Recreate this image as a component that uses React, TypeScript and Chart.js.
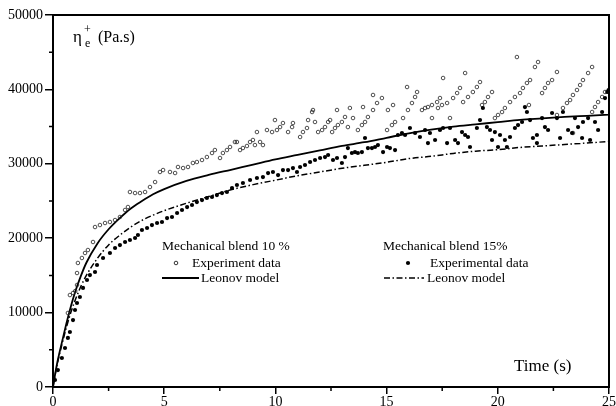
import React, { useEffect, useRef } from "react";
import { Chart, registerables } from "chart.js";

Chart.register(...registerables);

// ---- axis ticks ----
const X_MIN = 0;
const X_MAX = 25;
const X_STEP = 5;
const Y_MIN = 0;
const Y_MAX = 50000;
const Y_STEP = 10000;
const X_MINOR = [2.5, 7.5, 12.5, 17.5, 22.5];
const Y_MINOR = [5000, 15000, 25000, 35000, 45000];

// ---- texts ----
const Y_TITLE_MAIN = "η";
const Y_TITLE_SUP = "+";
const Y_TITLE_SUB = "e";
const Y_TITLE_UNIT = "(Pa.s)";
const X_TITLE = "Time (s)";
const LEGEND_10_TITLE = "Mechanical blend 10 %";
const LEGEND_10_EXP = "Experiment data";
const LEGEND_10_MODEL = "Leonov model";
const LEGEND_15_TITLE = "Mechanical blend 15%";
const LEGEND_15_EXP = "Experimental data";
const LEGEND_15_MODEL = "Leonov model";

// ---- Leonov model, blend 10 % (solid) ----
const leonov10T = [0, 0.1, 0.2, 0.4, 0.6, 0.8, 1, 1.25, 1.5, 2, 2.5, 3, 3.5, 4, 4.5, 5, 6, 7, 8, 9, 10, 11, 12, 13, 14, 15, 16, 17, 18, 19, 20, 21, 22, 23, 24, 25];
const leonov10V = [0, 1800, 3400, 6000, 8500, 10800, 12800, 14900, 16700, 19300, 21200, 22700, 24000, 25000, 25900, 26600, 27700, 28500, 29200, 29900, 30600, 31200, 31800, 32400, 32900, 33500, 34100, 34600, 35000, 35300, 35600, 35900, 36100, 36300, 36450, 36600];

// ---- Leonov model, blend 15 % (dash-dot) ----
const leonov15T = [0, 0.1, 0.2, 0.4, 0.6, 0.8, 1, 1.25, 1.5, 2, 2.5, 3, 3.5, 4, 4.5, 5, 6, 7, 8, 9, 10, 11, 12, 13, 14, 15, 16, 17, 18, 19, 20, 21, 22, 23, 24, 25];
const leonov15V = [0, 1700, 3200, 5700, 8000, 10000, 11700, 13500, 15000, 17300, 19100, 20400, 21500, 22400, 23100, 23700, 24700, 25600, 26500, 27200, 27800, 28400, 28900, 29400, 29800, 30200, 30700, 31000, 31400, 31700, 31900, 32200, 32400, 32600, 32800, 33000];

// ---- Experiment data, blend 10 % (open circles) [t, eta] ----
const exp10: [number, number][] = [
  [0.67, 9950], [0.76, 12360], [0.9, 12630], [1.0, 12900], [1.08, 13710], [1.08, 15320],
  [1.12, 16670], [1.3, 17340], [1.44, 18010], [1.57, 18410], [1.8, 19490], [1.89, 21500],
  [2.11, 21770], [2.34, 22040], [2.56, 22180], [2.79, 22440], [3.01, 22850], [3.24, 23790], [3.37, 24190],
  [3.46, 26210], [3.69, 26070], [3.91, 26070], [4.14, 26210], [4.36, 26880], [4.59, 27550], [4.81, 28900], [4.95, 29160],
  [5.26, 28900], [5.49, 28760], [5.62, 29570], [5.85, 29430], [6.07, 29570], [6.29, 30110], [6.47, 30240], [6.7, 30510],
  [6.92, 30910], [7.15, 31450], [7.28, 31850], [7.51, 30780], [7.64, 31450], [7.82, 31850], [7.96, 32260], [8.18, 32930],
  [8.27, 32930], [8.41, 31850], [8.54, 32120], [8.72, 32390], [8.86, 32930], [8.99, 33200], [9.17, 34270],
  [9.08, 32520], [9.31, 32930], [9.44, 32520], [9.62, 34540], [9.85, 34270], [9.98, 35880], [10.07, 34540], [10.21, 34940], [10.34, 35480],
  [10.57, 34270], [10.75, 34940], [10.79, 35480],
  [11.11, 33600], [11.24, 34270], [11.42, 34810], [11.47, 35880], [11.65, 36960], [11.69, 37230], [11.78, 35620],
  [11.92, 34270], [12.1, 34540], [12.23, 34940], [12.37, 35620], [12.46, 35880], [12.77, 37230],
  [12.55, 34270], [12.68, 34810], [12.81, 35210], [12.99, 35620], [13.13, 36290], [13.35, 37500],
  [13.26, 34940], [13.49, 36150], [13.94, 37630],
  [13.71, 34540], [13.89, 35210], [14.03, 35620], [14.16, 36290], [14.39, 37230], [14.57, 38170], [14.79, 38840], [14.39, 39250],
  [15.02, 34540], [15.24, 35210], [15.38, 35620], [15.06, 37230], [15.29, 37900],
  [15.74, 36150], [15.96, 37230], [16.14, 38170], [16.28, 38980], [16.37, 39650], [15.92, 40320],
  [16.59, 37230], [16.73, 37500], [16.86, 37630], [17.04, 37900], [17.27, 38300], [17.4, 38840], [17.54, 41530],
  [17.04, 36150], [17.31, 37500], [17.49, 37900], [17.72, 38170], [17.99, 38840], [18.17, 39510], [18.3, 40190], [18.53, 42200], [17.85, 36150],
  [18.44, 38300], [18.66, 38980], [18.88, 39650], [19.06, 40320], [19.2, 40990],
  [19.29, 37900], [19.42, 38300], [19.56, 38980], [19.74, 39650],
  [19.87, 36150], [20.01, 36560], [20.19, 36960], [20.32, 37500], [20.55, 38300], [20.77, 38980], [21.0, 39510],
  [21.13, 40190], [21.31, 40860], [21.45, 41260], [21.67, 43010], [21.81, 43680], [20.86, 44350],
  [21.99, 39510], [22.12, 40190], [22.26, 40860], [22.44, 41260], [22.66, 42340], [21.4, 37900],
  [22.66, 36560], [22.93, 37500], [23.11, 38170], [23.25, 38570], [23.38, 39250], [23.56, 39920], [23.7, 40590],
  [23.83, 41260], [24.06, 42200], [24.24, 43010], [23.38, 34140],
  [24.24, 36960], [24.37, 37630], [24.51, 38300], [24.69, 38980], [24.82, 39650],
];

// ---- Experimental data, blend 15 % (filled dots) [t, eta] ----
const exp15: [number, number][] = [
  [0.09, 940], [0.22, 2280], [0.4, 3900], [0.54, 5240], [0.67, 6590], [0.76, 7390], [0.9, 9000], [0.99, 10350],
  [1.08, 11290], [1.21, 12100], [1.35, 13310], [1.53, 14380], [1.66, 15050], [1.89, 15460],
  [1.98, 16400], [2.25, 17340], [2.56, 18010], [2.79, 18680], [3.01, 19080], [3.24, 19490], [3.46, 19760], [3.69, 20030],
  [3.82, 20430], [4.0, 21100], [4.23, 21370], [4.45, 21770], [4.68, 22040], [4.9, 22180], [5.13, 22710], [5.35, 22850],
  [5.58, 23390], [5.8, 23790], [6.03, 24190], [6.25, 24460], [6.47, 24860], [6.7, 25130], [6.92, 25400], [7.15, 25540],
  [7.37, 25800], [7.6, 26070], [7.82, 26210], [8.05, 26750], [8.27, 27150], [8.54, 27420], [8.86, 27820],
  [9.17, 28090], [9.44, 28220], [9.67, 28760], [9.89, 28900], [10.12, 28490], [10.34, 29160], [10.57, 29160],
  [10.79, 29430], [10.97, 28900], [11.11, 29570], [11.33, 29840], [11.56, 30240], [11.78, 30510], [12.01, 30780],
  [12.23, 30910], [12.37, 31180], [12.59, 30510], [12.77, 30780], [12.99, 30110], [13.13, 30910], [13.26, 32120],
  [13.44, 31450], [13.58, 31580], [13.71, 31450], [13.89, 31580], [14.03, 33470], [14.16, 32120], [14.34, 32120],
  [14.48, 32260], [14.61, 32520], [14.84, 31580], [15.02, 32260], [15.15, 32120], [15.38, 31850], [15.51, 33870],
  [15.69, 34140], [15.83, 33870], [16.05, 34810], [16.28, 34140],
  [16.5, 33600], [16.73, 34540], [16.95, 34140], [16.86, 32790], [17.18, 33200], [17.4, 34540], [17.54, 34810],
  [17.72, 32790], [17.85, 34810], [18.08, 33200], [18.21, 32790], [18.39, 34270], [18.53, 33870], [18.66, 33600],
  [18.75, 32260], [19.06, 34810], [19.2, 35880], [19.33, 37500], [19.51, 34940], [19.65, 34540], [19.74, 33200],
  [19.87, 34270], [20.1, 33870], [20.32, 33200], [20.55, 33600], [20.01, 32260], [20.41, 32260], [20.77, 34810],
  [20.91, 35210], [21.09, 35620], [21.22, 37630], [21.31, 36960], [21.45, 35880], [21.58, 33470], [21.76, 33870],
  [21.76, 32790], [21.99, 36150], [22.12, 34940], [22.26, 34540], [22.44, 36830], [22.66, 36150], [22.8, 33470],
  [22.93, 36960], [23.16, 34540], [23.34, 34140], [23.47, 36150], [23.61, 34940], [23.79, 33470], [23.83, 35620],
  [24.06, 36150], [24.15, 33200], [24.37, 35620], [24.51, 34540], [24.69, 36960], [24.82, 38840], [24.92, 39650], [24.98, 39920],
];

const FONT = "'Liberation Serif', 'DejaVu Serif', serif";

const overlayPlugin = {
  id: "overlay",
  afterDraw(chart: any) {
    const { ctx, chartArea: a, scales } = chart;
    const xs = scales.x;
    const ys = scales.y;
    ctx.save();
    ctx.strokeStyle = "#000";
    ctx.fillStyle = "#000";
    // frame
    ctx.lineWidth = 2;
    ctx.strokeRect(a.left, a.top, a.right - a.left, a.bottom - a.top);
    // minor ticks
    ctx.lineWidth = 1.5;
    ctx.beginPath();
    for (const v of Y_MINOR) {
      const py = ys.getPixelForValue(v);
      ctx.moveTo(a.left - 4, py);
      ctx.lineTo(a.left, py);
    }
    for (const v of X_MINOR) {
      const px = xs.getPixelForValue(v);
      ctx.moveTo(px, a.bottom);
      ctx.lineTo(px, a.bottom + 4);
    }
    ctx.stroke();

    // y title
    ctx.textBaseline = "alphabetic";
    ctx.textAlign = "left";
    ctx.font = `17px ${FONT}`;
    ctx.fillText(Y_TITLE_MAIN, 73, 42);
    ctx.font = `12px ${FONT}`;
    ctx.fillText(Y_TITLE_SUP, 84, 33);
    ctx.fillText(Y_TITLE_SUB, 85, 47);
    ctx.font = `16px ${FONT}`;
    ctx.fillText(Y_TITLE_UNIT, 98, 42);

    // x title
    ctx.font = `17px ${FONT}`;
    ctx.fillText(X_TITLE, 514, 371);

    // legend 10 %
    ctx.font = `13.5px ${FONT}`;
    ctx.fillText(LEGEND_10_TITLE, 162, 250);
    ctx.lineWidth = 0.8;
    ctx.beginPath();
    ctx.arc(176, 263, 1.8, 0, Math.PI * 2);
    ctx.stroke();
    ctx.fillText(LEGEND_10_EXP, 192, 267);
    ctx.lineWidth = 1.8;
    ctx.beginPath();
    ctx.moveTo(162, 278);
    ctx.lineTo(199, 278);
    ctx.stroke();
    ctx.fillText(LEGEND_10_MODEL, 201, 282);

    // legend 15 %
    ctx.fillText(LEGEND_15_TITLE, 383, 250);
    ctx.beginPath();
    ctx.arc(408, 263, 2.1, 0, Math.PI * 2);
    ctx.fill();
    ctx.fillText(LEGEND_15_EXP, 430, 267);
    ctx.lineWidth = 1.5;
    ctx.setLineDash([6, 2.5, 1.5, 2.5]);
    ctx.beginPath();
    ctx.moveTo(384, 278);
    ctx.lineTo(424, 278);
    ctx.stroke();
    ctx.setLineDash([]);
    ctx.fillText(LEGEND_15_MODEL, 427, 282);
    ctx.restore();
  },
};

export default function App() {
  const ref = useRef<HTMLCanvasElement | null>(null);

  useEffect(() => {
    document.body.style.margin = "0";
    const canvas = ref.current;
    if (!canvas) return;
    const tickFont = { family: FONT, size: 14 };
    const chart = new Chart(canvas, {
      type: "scatter",
      data: {
        datasets: [
          {
            label: LEGEND_15_EXP,
            data: exp15.map(([x, y]) => ({ x, y })),
            pointRadius: 2.1,
            pointBackgroundColor: "#000",
            pointBorderColor: "#000",
            pointBorderWidth: 0,
            showLine: false,
          },
          {
            label: LEGEND_10_EXP,
            data: exp10.map(([x, y]) => ({ x, y })),
            pointRadius: 1.8,
            pointBackgroundColor: "rgba(0,0,0,0)",
            pointBorderColor: "#222",
            pointBorderWidth: 0.8,
            showLine: false,
          },
          {
            label: "Leonov 10",
            data: leonov10T.map((t, i) => ({ x: t, y: leonov10V[i] })),
            showLine: true,
            borderColor: "#000",
            borderWidth: 1.8,
            pointRadius: 0,
            cubicInterpolationMode: "monotone",
            fill: false,
          },
          {
            label: "Leonov 15",
            data: leonov15T.map((t, i) => ({ x: t, y: leonov15V[i] })),
            showLine: true,
            borderColor: "#000",
            borderWidth: 1.5,
            borderDash: [6, 2.5, 1.5, 2.5],
            pointRadius: 0,
            cubicInterpolationMode: "monotone",
            fill: false,
          },
        ] as any,
      },
      options: {
        animation: false,
        responsive: false,
        maintainAspectRatio: false,
        events: [],
        layout: { padding: { top: 15, right: 7, left: 0, bottom: 0 } },
        plugins: { legend: { display: false }, tooltip: { enabled: false } },
        scales: {
          x: {
            type: "linear",
            min: X_MIN,
            max: X_MAX,
            ticks: { stepSize: X_STEP, color: "#000", font: tickFont, padding: 0, maxRotation: 0, callback: (v: any) => String(v) },
            grid: { display: true, drawOnChartArea: false, drawTicks: true, tickLength: 7, color: "#000", lineWidth: 1.5 },
            border: { display: true, color: "#000", width: 2 },
            afterFit: (s: any) => { s.height = 19; },
          },
          y: {
            type: "linear",
            min: Y_MIN,
            max: Y_MAX,
            ticks: { stepSize: Y_STEP, color: "#000", font: tickFont, padding: 2, callback: (v: any) => String(v) },
            grid: { display: true, drawOnChartArea: false, drawTicks: true, tickLength: 8, color: "#000", lineWidth: 1.5 },
            border: { display: true, color: "#000", width: 2 },
            afterFit: (s: any) => { s.width = 53; },
          },
        },
      } as any,
      plugins: [overlayPlugin],
    });
    return () => chart.destroy();
  }, []);

  return (
    <div style={{ position: "absolute", left: 0, top: 0, width: 616, height: 406, background: "#fff" }}>
      <canvas ref={ref} width={616} height={406} style={{ width: 616, height: 406 }} />
    </div>
  );
}
